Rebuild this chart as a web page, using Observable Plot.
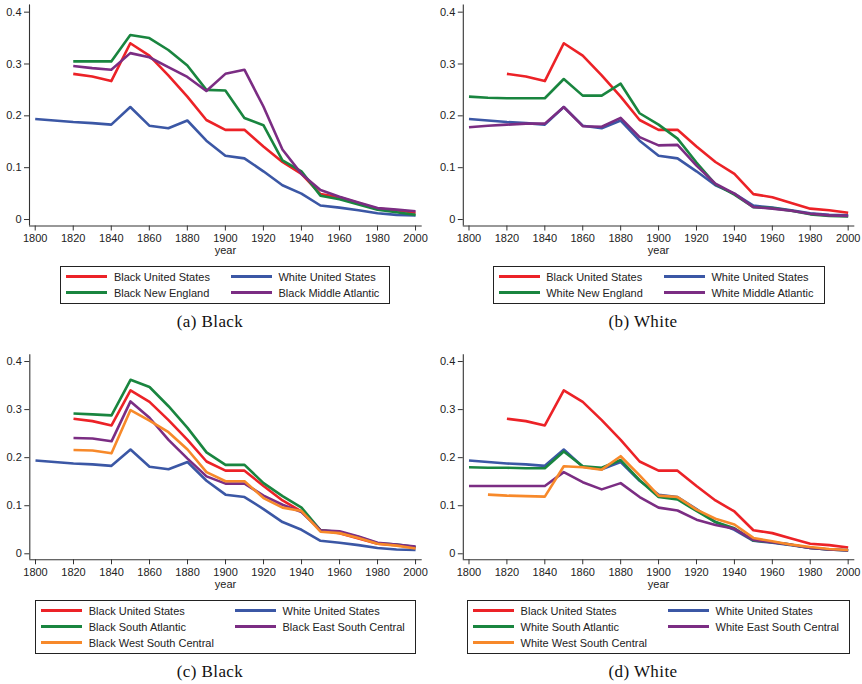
<!DOCTYPE html>
<html>
<head>
<meta charset="utf-8">
<script src="https://cdn.jsdelivr.net/npm/d3@7"></script>
<script src="https://cdn.jsdelivr.net/npm/@observablehq/plot@0.6"></script>
<style>
  html, body { margin: 0; padding: 0; background: #fff; }
  #root { position: relative; width: 862px; height: 684px; overflow: hidden;
          font-family: "Liberation Sans", Arial, Helvetica, sans-serif; color: #222; }
  .panel { position: absolute; }
  .panel svg { position: absolute; left: 0; top: 0; overflow: visible; }
  .xlabel { position: absolute; text-align: center; font-size: 11px; line-height: 12px; }
  .legwrap { position: absolute; text-align: center; }
  .legend { display: inline-grid; grid-template-columns: auto auto; column-gap: 21px;
            border: 1px solid #222; padding: 2px 10px 2px 5px; text-align: left;
            font-size: 11px; line-height: 16px; background: #fff; }
  .item { display: flex; align-items: center; white-space: nowrap; }
  .swatch { display: inline-block; width: 41px; height: 2.6px; margin-right: 6.6px; }
  .caption { position: absolute; text-align: center; font-family: "Liberation Serif", "Times New Roman", serif;
             font-size: 17px; letter-spacing: 0.4px; line-height: 20px; color: #111; }
</style>
</head>
<body>
<div id="root"></div>
<script>
// ---- data ----
const years = [1800,1810,1820,1830,1840,1850,1860,1870,1880,1890,1900,1910,1920,1930,1940,1950,1960,1970,1980,1990,2000];
const xTicks = [1800,1820,1840,1860,1880,1900,1920,1940,1960,1980,2000];
const yTicks = [0, 0.1, 0.2, 0.3, 0.4];

const blackUS  = [null,null,0.281,0.276,0.267,0.340,0.316,0.278,0.237,0.192,0.173,0.173,0.141,0.111,0.088,0.049,0.043,0.032,0.021,0.018,0.013];
const whiteUS  = [0.194,0.191,0.188,0.186,0.183,0.217,0.181,0.176,0.191,0.152,0.123,0.118,0.093,0.066,0.050,0.027,0.023,0.018,0.012,0.009,0.008];
const blackNE  = [null,null,0.305,0.305,0.305,0.356,0.350,0.327,0.297,0.250,0.249,0.196,0.182,0.114,0.093,0.046,0.039,0.029,0.019,0.014,0.009];
const blackMA  = [null,null,0.296,0.292,0.289,0.321,0.313,0.294,0.275,0.248,0.281,0.289,0.218,0.135,0.088,0.057,0.044,0.033,0.022,0.019,0.016];
const whiteNE  = [0.237,0.235,0.234,0.234,0.234,0.271,0.239,0.239,0.262,0.205,0.183,0.156,0.110,0.068,0.048,0.024,0.022,0.017,0.010,0.007,0.006];
const whiteMA  = [0.178,0.181,0.183,0.185,0.185,0.217,0.180,0.179,0.196,0.159,0.143,0.144,0.104,0.069,0.050,0.024,0.021,0.017,0.011,0.008,0.007];
const blackSA  = [null,null,0.292,0.290,0.288,0.362,0.347,0.307,0.262,0.211,0.185,0.185,0.147,0.120,0.096,0.049,0.045,0.035,0.022,0.019,0.014];
const blackESC = [null,null,0.241,0.240,0.234,0.317,0.283,0.237,0.198,0.161,0.146,0.146,0.121,0.102,0.087,0.049,0.047,0.036,0.023,0.019,0.015];
const blackWSC = [null,null,0.216,0.215,0.209,0.299,0.277,0.253,0.217,0.170,0.151,0.151,0.116,0.096,0.089,0.046,0.043,0.033,0.021,0.017,0.011];
const whiteSA  = [0.180,0.179,0.179,0.178,0.178,0.213,0.182,0.179,0.195,0.153,0.118,0.113,0.089,0.066,0.053,0.028,0.024,0.019,0.012,0.009,0.007];
const whiteESC = [0.141,0.141,0.141,0.141,0.141,0.170,0.149,0.134,0.147,0.118,0.096,0.090,0.071,0.060,0.052,0.029,0.024,0.019,0.012,0.009,0.007];
const whiteWSC = [null,0.123,0.121,0.120,0.119,0.182,0.180,0.175,0.203,0.163,0.121,0.118,0.092,0.073,0.061,0.033,0.026,0.019,0.014,0.010,0.008];

const RED = "#ec2227", BLUE = "#3b57a5", GREEN = "#19853f", PURPLE = "#7b2d83", ORANGE = "#f7892a";

const panels = [
  { left: 0, top: 0, width: 430, mt: 4.4, mb: 19.5, ml: 29, mr: 8.3, caption: "(a) Black",
    series: [["Black United States", blackUS, RED], ["White United States", whiteUS, BLUE],
             ["Black New England", blackNE, GREEN], ["Black Middle Atlantic", blackMA, PURPLE]] },
  { left: 430, top: 0, width: 432, mt: 4.4, mb: 19.5, ml: 32.8, mr: 7.7, caption: "(b) White",
    series: [["Black United States", blackUS, RED], ["White United States", whiteUS, BLUE],
             ["White New England", whiteNE, GREEN], ["White Middle Atlantic", whiteMA, PURPLE]] },
  { left: 0, top: 340, width: 430, mt: 14.3, mb: 25.7, ml: 29.3, mr: 8.3, caption: "(c) Black",
    series: [["Black United States", blackUS, RED], ["White United States", whiteUS, BLUE],
             ["Black South Atlantic", blackSA, GREEN], ["Black East South Central", blackESC, PURPLE],
             ["Black West South Central", blackWSC, ORANGE]] },
  { left: 430, top: 340, width: 432, mt: 14.3, mb: 25.7, ml: 32.8, mr: 7.7, caption: "(d) White",
    series: [["Black United States", blackUS, RED], ["White United States", whiteUS, BLUE],
             ["White South Atlantic", whiteSA, GREEN], ["White East South Central", whiteESC, PURPLE],
             ["White West South Central", whiteWSC, ORANGE]] }
];

const xDomain = [1797, 2003.5];
const yDomain = [-0.0125, 0.414];
const H = 245;

const root = document.getElementById("root");

for (const p of panels) {
  const rows = p.series.flatMap(([name, vals]) => years.map((yr, i) => ({ year: yr, value: vals[i], series: name })));
  const names = p.series.map(s => s[0]);
  const colors = p.series.map(s => s[2]);

  const chart = Plot.plot({
    width: p.width, height: H,
    marginTop: p.mt, marginBottom: p.mb, marginLeft: p.ml, marginRight: p.mr,
    style: { fontFamily: '"Liberation Sans", Arial, sans-serif', fontSize: "11px", color: "#222", background: "transparent", overflow: "visible" },
    x: { domain: xDomain, label: null },
    y: { domain: yDomain, label: null },
    color: { domain: names, range: colors },
    marks: [
      Plot.ruleX([xDomain[0]], { stroke: "#333", strokeWidth: 1.1 }),
      Plot.ruleY([yDomain[0]], { stroke: "#333", strokeWidth: 1.1 }),
      Plot.axisX({ ticks: xTicks, tickSize: 5, tickPadding: 3, tickFormat: d => String(d), label: null, stroke: "#333" }),
      Plot.axisY({ ticks: yTicks, tickSize: 5, tickPadding: 3, tickFormat: d => d === 0 ? "0" : d.toFixed(1), label: null, stroke: "#333" }),
      Plot.line(rows, { x: "year", y: "value", z: "series", stroke: "series", strokeWidth: 2.6,
                        strokeLinejoin: "round", strokeLinecap: "butt" })
    ]
  });

  const div = document.createElement("div");
  div.className = "panel";
  div.style.left = p.left + "px";
  div.style.top = p.top + "px";
  div.style.width = p.width + "px";
  div.style.height = "342px";
  div.appendChild(chart);

  const plotL = p.ml, plotR = p.width - p.mr;
  const axisY = H - p.mb;

  const xl = document.createElement("div");
  xl.className = "xlabel";
  xl.textContent = "year";
  xl.style.left = plotL + "px";
  xl.style.width = (plotR - plotL) + "px";
  xl.style.top = (axisY + 18.5) + "px";
  div.appendChild(xl);

  const lw = document.createElement("div");
  lw.className = "legwrap";
  lw.style.left = plotL + "px";
  lw.style.width = (plotR - plotL) + "px";
  lw.style.top = (axisY + 38.5) + "px";
  const lg = document.createElement("div");
  lg.className = "legend";
  for (const [name, , col] of p.series) {
    const it = document.createElement("div");
    it.className = "item";
    const sw = document.createElement("span");
    sw.className = "swatch";
    sw.style.background = col;
    const tx = document.createElement("span");
    tx.textContent = name;
    it.appendChild(sw); it.appendChild(tx);
    lg.appendChild(it);
  }
  lw.appendChild(lg);
  div.appendChild(lw);

  const cap = document.createElement("div");
  cap.className = "caption";
  cap.textContent = p.caption;
  cap.style.left = "0px";
  cap.style.width = (p.left === 0 ? 420 : 426) + "px";
  cap.style.top = (p.top === 0 ? 312 : 322) + "px";
  div.appendChild(cap);

  root.appendChild(div);
}
</script>
</body>
</html>
